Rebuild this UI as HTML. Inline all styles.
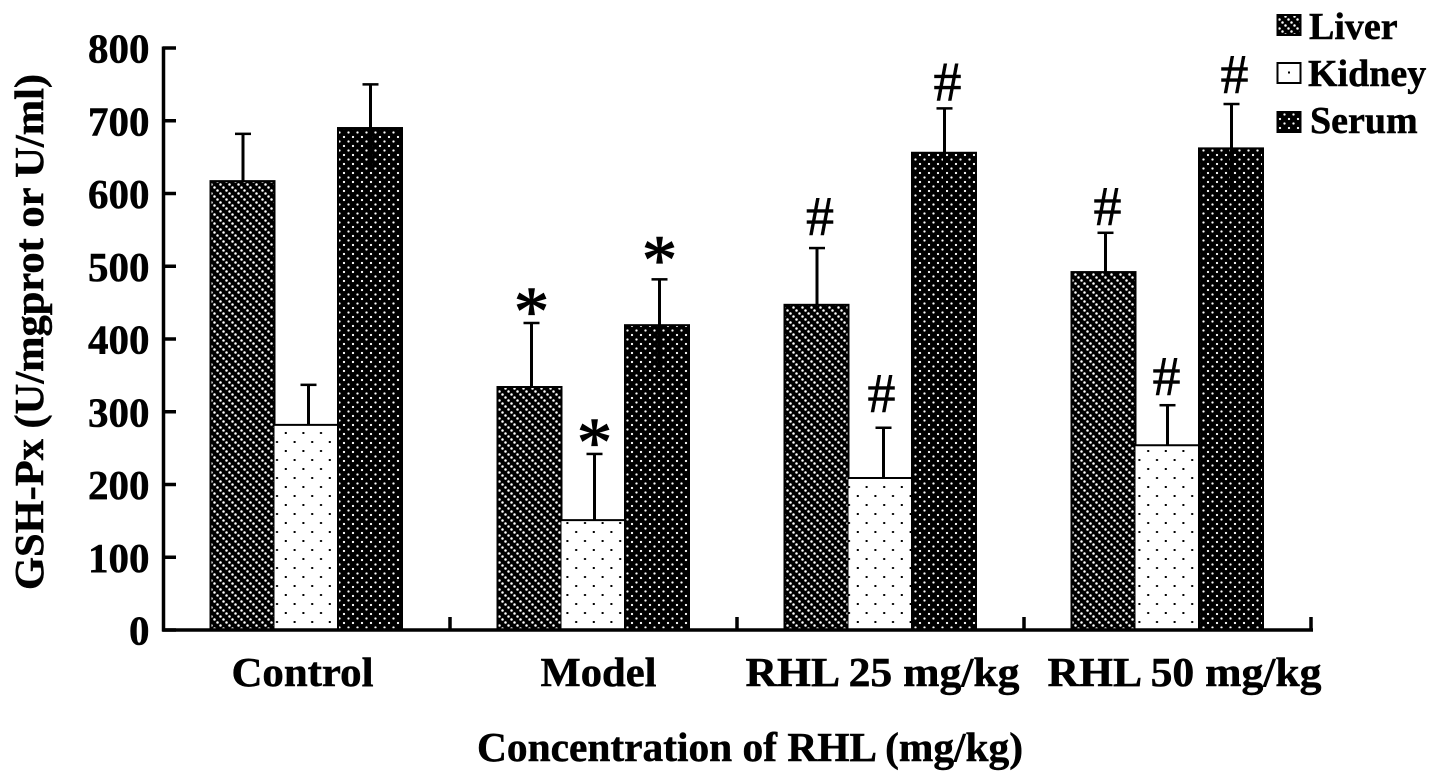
<!DOCTYPE html>
<html lang="en">
<head>
<meta charset="utf-8">
<title>GSH-Px by RHL concentration</title>
<style>
html,body{margin:0;padding:0;background:#fff;width:1441px;height:783px;overflow:hidden}
svg{display:block;font-family:"Liberation Serif",serif}
text{fill:#000;font-weight:bold;stroke:#000;stroke-width:.5px}
</style>
</head>
<body>
<svg id="chart" xmlns="http://www.w3.org/2000/svg" width="1441" height="783" viewBox="0 0 1441 783">
<defs>
<pattern id="pat-liver" patternUnits="userSpaceOnUse" width="9" height="9">
<rect width="9" height="9" fill="#000"/>
<circle cx="1.5" cy="1.5" r="1.25" fill="#fff"/>
<circle cx="4.5" cy="4.5" r="1.25" fill="#fff"/>
<circle cx="7.5" cy="7.5" r="1.25" fill="#fff"/>
</pattern>
<pattern id="pat-kidney" patternUnits="userSpaceOnUse" width="17.6" height="18">
<rect width="17.6" height="18" fill="#fff"/>
<rect x="3.2" y="0" width="2" height="2" fill="#000"/>
<rect x="12" y="9" width="2" height="2" fill="#000"/>
</pattern>
<pattern id="pat-serum" patternUnits="userSpaceOnUse" width="9" height="9">
<rect width="9" height="9" fill="#000"/>
<circle cx="2" cy="2" r="1.15" fill="#fff"/>
<circle cx="6.5" cy="6.5" r="1.15" fill="#fff"/>
</pattern>
</defs>
<g id="bars"></g>
<g id="errors"></g>
<g id="marks"></g>
<g id="axes"></g>

<text transform="translate(43,332) rotate(-90)" text-anchor="middle" font-size="41" textLength="516" lengthAdjust="spacingAndGlyphs">GSH-Px (U/mgprot or U/ml)</text>
<text x="750" y="761" text-anchor="middle" font-size="41" textLength="546" lengthAdjust="spacingAndGlyphs">Concentration of RHL (mg/kg)</text>

<g>
<g>
<rect x="1277.5" y="15" width="23" height="20" fill="url(#pat-liver)" stroke="#000" stroke-width="2"/>
<text x="1309" y="39" font-size="38">Liver</text>
</g>
<g>
<rect x="1277.5" y="63" width="23" height="20" fill="#fff" stroke="#000" stroke-width="2"/>
<rect x="1288" y="71.5" width="2" height="2" fill="#000"/>
<text x="1308" y="86" font-size="38">Kidney</text>
</g>
<g>
<rect x="1277.5" y="112" width="23" height="20" fill="url(#pat-serum)" stroke="#000" stroke-width="2"/>
<text x="1310" y="133" font-size="38">Serum</text>
</g>
</g>
</svg>
<script>
const categories = ['Control', 'Model', 'RHL 25 mg/kg', 'RHL 50 mg/kg'];
const seriesNames = ['liver', 'kidney', 'serum'];
const liverValues = [617, 334, 447, 492];
const kidneyValues = [282, 151, 209, 254];
const serumValues = [690, 419, 656, 662];
const liverErrors = [65, 88, 78, 54];
const kidneyErrors = [55, 91, 69, 55];
const serumErrors = [60, 63, 61, 61];
const liverMarks = ['', '*', '#', '#'];
const kidneyMarks = ['', '*', '#', '#'];
const serumMarks = ['', '*', '#', '#'];
const yTicks = [0, 100, 200, 300, 400, 500, 600, 700, 800];

const NS = 'http://www.w3.org/2000/svg';
const yScale = v => 630 - v * 0.7275;
const bandStart = i => 163 + i * 287;
const bandCenter = i => bandStart(i) + 143.5;
const barWidth = 64;
const barLeft = (i, s) => bandCenter(i) - 96 + s * barWidth - (s === 2 ? 0.5 : 0);
const labelShift = [-4, 5, 2, 17];
const labelWidth = [142, 116, 274, 274];
const stemShift = [[-1.5, 0, -1.5, 0], [1, 0, 2, -1], [0.5, 2.5, 0.5, 0.5]];
const markShiftX = [[0, 0, 3, 2], [0, 0, -2, -1], [0, 0, 3, 3]];
const markGap = [[0, -11.5, 13, 8], [0, -11.5, 16, 10], [0, -3.5, 8, 11]];

function make(parent, tag, attrs, text) {
  const el = document.createElementNS(NS, tag);
  Object.keys(attrs).forEach(k => el.setAttribute(k, attrs[k]));
  if (text !== undefined) el.textContent = text;
  parent.appendChild(el);
  return el;
}

const valuesBySeries = [liverValues, kidneyValues, serumValues];
const errorsBySeries = [liverErrors, kidneyErrors, serumErrors];
const marksBySeries = [liverMarks, kidneyMarks, serumMarks];
const barsG = document.getElementById('bars');
const errorsG = document.getElementById('errors');
const marksG = document.getElementById('marks');
const axesG = document.getElementById('axes');

categories.forEach((cat, i) => {
  seriesNames.forEach((name, s) => {
    const v = valuesBySeries[s][i];
    const e = errorsBySeries[s][i];
    const x = barLeft(i, s);
    const cx = x + barWidth / 2;
    const ex = cx + stemShift[s][i] + (s === 0 ? 2 : s === 1 ? 1 : 0);

    const bar = make(barsG, 'rect', {
      x: x, y: yScale(v), width: barWidth, height: yScale(0) - yScale(v),
      fill: 'url(#pat-' + name + ')', stroke: s === 1 ? 'none' : '#000', 'stroke-width': 2
    });
    
    

    if (s === 1) {
      const topLine = make(barsG, 'line', {
        x1: x, x2: x + barWidth, y1: yScale(v), y2: yScale(v), stroke: '#000', 'stroke-width': 2
      });
      
      
    }

    const stem = make(errorsG, 'line', {
      x1: ex, x2: ex, y1: yScale(v), y2: yScale(v + e), stroke: '#000', 'stroke-width': 3
    });
    
    

    const cap = make(errorsG, 'line', {
      x1: ex - 8, x2: ex + 8, y1: yScale(v + e), y2: yScale(v + e), stroke: '#000', 'stroke-width': 2.5
    });
    
    

    if (s === 2) {
      const lower = make(errorsG, 'line', {
        x1: ex, x2: ex, y1: yScale(v), y2: yScale(v - e), stroke: '#000', 'stroke-width': 3
      });
      
      
    }

    const m = marksBySeries[s][i];
    if (m) {
      const isStar = m === '*';
      const mark = make(marksG, 'text', {
        x: ex + markShiftX[s][i], y: yScale(v + e) - markGap[s][i],
        'text-anchor': 'middle', 'font-size': isStar ? 70 : 56,
        style: 'font-weight:normal;stroke-width:' + (isStar ? '1.2px' : '.6px')
      }, m);
      
      
    }
  });

  const label = make(axesG, 'text', {
    x: bandCenter(i) + labelShift[i], y: 686, 'text-anchor': 'middle', 'font-size': 41,
    textLength: labelWidth[i], lengthAdjust: 'spacingAndGlyphs'
  }, cat);
  
  
});

const yAxis = make(axesG, 'line', { x1: 163.5, x2: 163.5, y1: yScale(800) - 1.5, y2: yScale(0) + 1.5, stroke: '#000', 'stroke-width': 3.5 });



const xAxis = make(axesG, 'line', { x1: 162, x2: bandStart(categories.length) + 2, y1: yScale(0), y2: yScale(0), stroke: '#000', 'stroke-width': 3.5 });



yTicks.forEach(t => {
  const tick = make(axesG, 'line', { x1: 163, x2: 176, y1: yScale(t), y2: yScale(t), stroke: '#000', 'stroke-width': 3.5 });
  
  

  const lbl = make(axesG, 'text', { x: 149.5, y: yScale(t) + 14.5, 'text-anchor': 'end', 'font-size': 41 }, String(t));
  
  
});

for (let i = 1; i <= categories.length; i++) {
  const tick = make(axesG, 'line', { x1: bandStart(i), x2: bandStart(i), y1: yScale(0), y2: yScale(0) - 13, stroke: '#000', 'stroke-width': 3.5 });
  
  
}
</script>
</body>
</html>
